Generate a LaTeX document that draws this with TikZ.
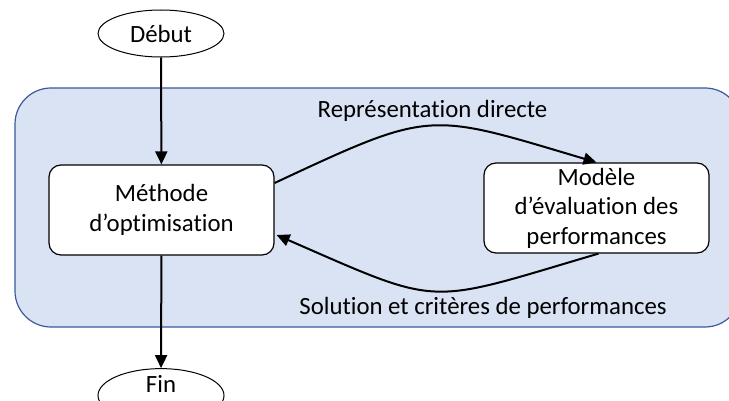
\documentclass[tikz,border=0pt]{standalone}
\usepackage{fontspec}
\setmainfont[Ligatures=NoCommon]{Carlito}
\usetikzlibrary{arrows.meta,shapes.geometric,calc}
\definecolor{panelfill}{HTML}{DAE3F3}
\definecolor{paneldraw}{HTML}{3A5A9A}
\tikzset{
  terminal/.style={ellipse, draw=black, line width=1pt, fill=white,
    minimum width=126pt, minimum height=47pt, inner sep=0pt},
  procbox/.style={rectangle, rounded corners=12pt, draw=black, line width=1.2pt,
    fill=white, minimum width=225pt, minimum height=90pt, inner sep=0pt,
    align=center},
  flow/.style={line width=2pt, -{Triangle[length=13pt,width=12pt]}},
  lbl/.style={anchor=base, inner sep=0pt}
}
\begin{document}
\begin{tikzpicture}[x=1pt,y=-1pt,font=\fontsize{24.8pt}{30pt}\selectfont]
\useasboundingbox (0,0) rectangle (729,401);
% panel
\filldraw[fill=panelfill, draw=paneldraw, line width=1.2pt, rounded corners=36pt]
  (15,88) rectangle (741,327);
% nodes
\node[terminal] (debut) at (161,33.5) {Début};
\node[terminal, text height=16pt, text depth=22pt] (fin) at (161,395.5) {Fin};
\node[procbox] (methode) at (161.5,210) {Méthode\\d’optimisation};
\node[procbox, font=\fontsize{24.8pt}{29.5pt}\selectfont] (modele) at (596.5,208)
  {Modèle\\d’évaluation des\\performances};
% labels
\node[lbl] (lrep) at (432.5,118) {Représentation directe};
\node[lbl] (lsol) at (483,314) {Solution et critères de performances};
% connectors
\draw[flow] (debut) -- (methode);
\draw[flow] (methode) -- (fin);
\draw[flow] ($(methode.east)+(0,-27)$) .. controls (433,109) and (427,112) .. (modele.north);
\draw[flow] ($(modele.south)+(2,0)$) .. controls (424,305) and (444,308) .. ($(methode.east)+(2,25)$);
\end{tikzpicture}
\end{document}
